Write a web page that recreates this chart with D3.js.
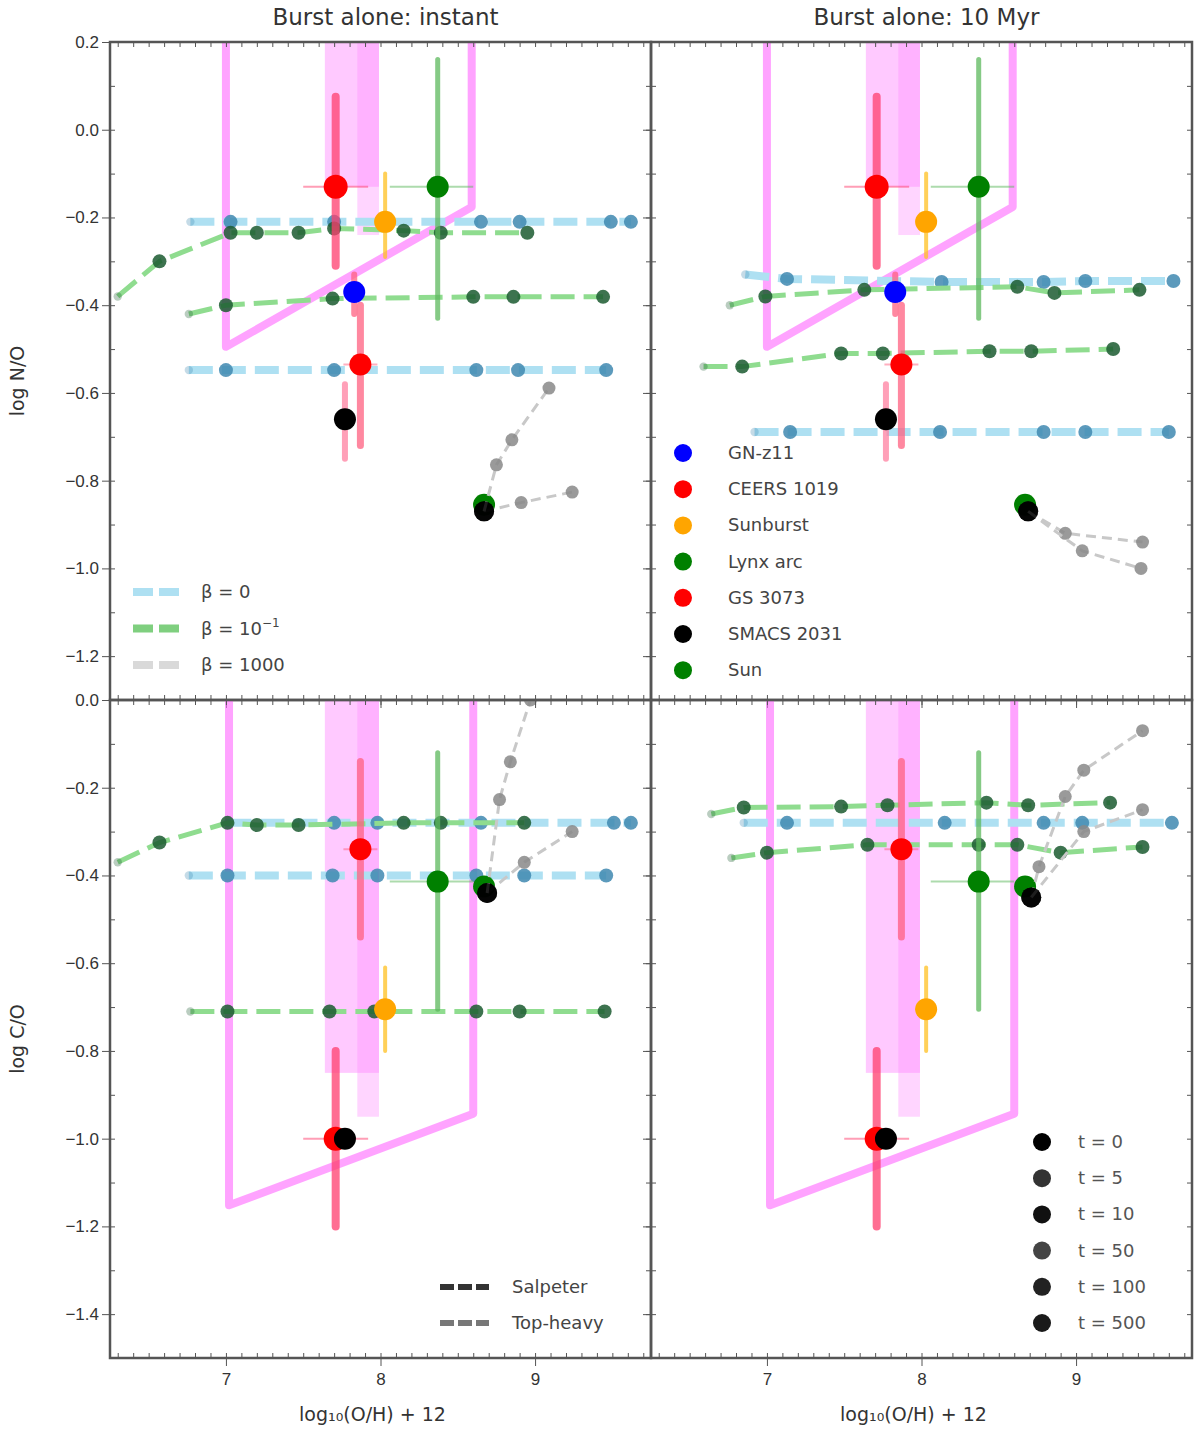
<!DOCTYPE html>
<html>
<head>
<meta charset="utf-8">
<script src="https://cdn.jsdelivr.net/npm/d3@7"></script>
<style>body{margin:0;background:#fff}</style>
</head>
<body>
<script>
// ---- data ----
var titles = ["Burst alone: instant", "Burst alone: 10 Myr"];
var xLabel = "log\u2081\u2080(O/H) + 12";
var yLabels = ["log N/O", "log C/O"];
var xDomain = [6.25, 9.75];
var xTicks = [7, 8, 9];
var yTicksNO = [0.2, 0.0, -0.2, -0.4, -0.6, -0.8, -1.0, -1.2];
var yTicksCO = [0.0, -0.2, -0.4, -0.6, -0.8, -1.0, -1.2, -1.4];

// observed objects
var obsNames = ["GN-z11", "CEERS 1019", "Sunburst", "Lynx arc", "GS 3073", "SMACS 2031", "Sun"];
var obsX   = [7.83, 7.71, 8.03, 8.37, 7.87, 7.77, 8.67];
var obsXlo = [7.78, 7.50, 7.96, 8.06, 7.76, 7.77, 8.67];
var obsXhi = [7.88, 7.92, 8.10, 8.60, 7.98, 7.77, 8.67];
var obsNO   = [-0.37, -0.13, -0.21, -0.13, -0.535, -0.66, -0.855];
var obsNOlo = [-0.42, -0.31, -0.29, -0.43, -0.72, -0.75, -0.855];
var obsNOhi = [-0.33, 0.075, -0.10, 0.16, -0.40, -0.58, -0.855];
var obsCO   = [null, -1.00, -0.705, -0.414, -0.34, -1.00, -0.425];
var obsCOlo = [null, -1.20, -0.80, -0.705, -0.54, -1.00, -0.425];
var obsCOhi = [null, -0.80, -0.61, -0.12, -0.14, -1.00, -0.425];

// legend texts
var trackNames = ["\u03b2 = 0", "\u03b2 = 10", "\u03b2 = 1000"];
var imfNames = ["Salpeter", "Top-heavy"];
var timeNames = ["t = 0", "t = 5", "t = 10", "t = 50", "t = 100", "t = 500"];

// observational constraints (region outline and band)
var polyNO = [[7.00, 0.30], [7.00, -0.495], [8.59, -0.176], [8.59, 0.30]];
var polyCO = [[7.02, 0.10], [7.02, -1.152], [8.60, -0.943], [8.60, 0.10]];
var bandNO = [7.64, 7.99, -0.13, 7.85, -0.24];
var bandCO = [7.64, 7.99, -0.85, 7.85, -0.95];

// model tracks, N/O, instant burst
var tlBlueA  = [[6.77, -0.21], [7.03, -0.21], [7.70, -0.21], [8.65, -0.21], [8.90, -0.21], [9.49, -0.21], [9.62, -0.21]];
var tlBlueB  = [[6.76, -0.548], [7.00, -0.548], [7.70, -0.548], [8.62, -0.548], [8.89, -0.548], [9.46, -0.548]];
var tlGreenA = [[6.30, -0.38], [6.57, -0.30], [7.03, -0.235], [7.20, -0.235], [7.47, -0.235], [7.70, -0.225], [8.15, -0.23], [8.39, -0.235], [8.95, -0.235]];
var tlGreenB = [[6.76, -0.42], [7.00, -0.40], [7.69, -0.385], [8.60, -0.381], [8.86, -0.381], [9.44, -0.381]];
var tlGray1  = [[8.67, -0.87], [8.91, -0.85], [9.24, -0.826]];
var tlGray2  = [[8.67, -0.87], [8.75, -0.764], [8.85, -0.707], [9.09, -0.589]];

// model tracks, N/O, 10 Myr burst
var trBlueA  = [[6.86, -0.33], [7.13, -0.34], [8.13, -0.347], [8.79, -0.347], [9.06, -0.345], [9.63, -0.345]];
var trBlueB  = [[6.92, -0.689], [7.15, -0.689], [8.12, -0.689], [8.79, -0.689], [9.06, -0.689], [9.60, -0.689]];
var trGreenA = [[6.76, -0.40], [6.99, -0.38], [7.63, -0.365], [8.62, -0.358], [8.86, -0.372], [9.41, -0.365]];
var trGreenB = [[6.59, -0.54], [6.84, -0.54], [7.48, -0.51], [7.75, -0.51], [8.44, -0.505], [8.71, -0.505], [9.24, -0.50]];
var trGray1  = [[8.69, -0.87], [8.93, -0.92], [9.43, -0.94]];
var trGray2  = [[8.69, -0.87], [9.04, -0.96], [9.42, -1.00]];

// model tracks, C/O, instant burst
var blBlueA  = [[7.01, -0.28], [7.70, -0.28], [7.98, -0.28], [8.65, -0.28], [9.51, -0.28], [9.62, -0.28]];
var blBlueB  = [[6.76, -0.40], [7.01, -0.40], [7.69, -0.40], [7.98, -0.40], [8.62, -0.40], [8.93, -0.40], [9.46, -0.40]];
var blGreenA = [[6.30, -0.37], [6.57, -0.325], [7.01, -0.28], [7.20, -0.285], [7.47, -0.285], [8.15, -0.28], [8.39, -0.28], [8.93, -0.28]];
var blGreenB = [[6.77, -0.71], [7.01, -0.71], [7.67, -0.71], [7.96, -0.71], [8.62, -0.71], [8.90, -0.71], [9.45, -0.71]];
var blGray1  = [[8.69, -0.44], [8.93, -0.37], [9.24, -0.30]];
var blGray2  = [[8.69, -0.44], [8.77, -0.227], [8.84, -0.141], [8.97, 0.0]];

// model tracks, C/O, 10 Myr burst
var brBlueA  = [[6.85, -0.28], [7.13, -0.28], [8.15, -0.28], [8.79, -0.28], [9.04, -0.28], [9.62, -0.28]];
var brGreenA = [[6.64, -0.26], [6.85, -0.245], [7.48, -0.243], [7.78, -0.24], [8.42, -0.234], [8.69, -0.24], [9.22, -0.234]];
var brGreenB = [[6.77, -0.36], [7.00, -0.348], [7.65, -0.33], [8.37, -0.33], [8.62, -0.33], [8.90, -0.348], [9.43, -0.335]];
var brGray1  = [[8.71, -0.45], [8.76, -0.38], [8.93, -0.22], [9.05, -0.16], [9.43, -0.07]];
var brGray2  = [[8.71, -0.45], [9.05, -0.30], [9.43, -0.25]];

// ---- styles ----
var obsColors = ["#0000ff", "#ff0000", "#ffa500", "#008000", "#ff0000", "#000000", "#008000"];
var errColors = ["#ff6080", "#ff3d6e", "#ffc020", "#5cb85c", "#ff6080", "#ff80a0", "#008000"];
var errWidths = [6, 8, 4, 5, 7, 6, 0];
var timeShades = ["#000", "#333", "#111", "#444", "#222", "#1a1a1a"];

var panelW = 541, panelH = 658;
var panels = [
  {left: 110, top: 42,  yDom: [-1.3, 0.2], yTicks: yTicksNO, oy: obsNO, lo: obsNOlo, hi: obsNOhi,
   poly: polyNO, band: bandNO, blue: [tlBlueA, tlBlueB], green: [tlGreenA, tlGreenB], gray: [tlGray1, tlGray2], col: 0, row: 0},
  {left: 651, top: 42,  yDom: [-1.3, 0.2], yTicks: yTicksNO, oy: obsNO, lo: obsNOlo, hi: obsNOhi,
   poly: polyNO, band: bandNO, blue: [trBlueA, trBlueB], green: [trGreenA, trGreenB], gray: [trGray1, trGray2], col: 1, row: 0},
  {left: 110, top: 700, yDom: [-1.5, 0.0], yTicks: yTicksCO, oy: obsCO, lo: obsCOlo, hi: obsCOhi,
   poly: polyCO, band: bandCO, blue: [blBlueA, blBlueB], green: [blGreenA, blGreenB], gray: [blGray1, blGray2], col: 0, row: 1},
  {left: 651, top: 700, yDom: [-1.5, 0.0], yTicks: yTicksCO, oy: obsCO, lo: obsCOlo, hi: obsCOhi,
   poly: polyCO, band: bandCO, blue: [brBlueA], green: [brGreenA, brGreenB], gray: [brGray1, brGray2], col: 1, row: 1}
];

var svg = d3.select("body")
  .append("svg")
    .attr("width", 1200)
    .attr("height", 1440)
    .style("font-family", "'DejaVu Sans', sans-serif");
var defs = svg.append("defs");

function drawTrack(g, pts, x, y, lineColor, lineWidth, dash, markColor, r, firstBlack) {
  g.append("path")
    .datum(pts)
    .attr("d", d3.line().x(function(d) { return x(d[0]); }).y(function(d) { return y(d[1]); }))
    .attr("fill", "none")
    .attr("stroke", lineColor)
    .attr("stroke-width", lineWidth)
    .attr("stroke-dasharray", dash);
  g.selectAll(null)
    .data(pts)
    .enter()
    .append("circle")
      .attr("cx", function(d) { return x(d[0]); })
      .attr("cy", function(d) { return y(d[1]); })
      .attr("r", function(d, i) { return i === 0 ? (firstBlack ? 10 : r * 0.6) : r; })
      .attr("fill", function(d, i) { return (i === 0 && firstBlack) ? "#000" : markColor; })
      .attr("fill-opacity", function(d, i) { return i === 0 && !firstBlack ? 0.3 : 0.85; });
}

var minorX = d3.range(63, 98).map(function(d) { return d / 10; });

panels.forEach(function(p, k) {
  var x = d3.scaleLinear().domain(xDomain).range([p.left, p.left + panelW]);
  var y = d3.scaleLinear().domain(p.yDom).range([p.top + panelH, p.top]);
  var minorY = d3.range(-15, 3).map(function(d) { return d / 10; })
    .filter(function(v) { return v >= p.yDom[0] && v <= p.yDom[1]; });

  defs.append("clipPath").attr("id", "clip" + k)
    .append("rect")
      .attr("x", p.left).attr("y", p.top)
      .attr("width", panelW).attr("height", panelH);

  var g = svg.append("g").attr("clip-path", "url(#clip" + k + ")");

  // shaded band
  g.append("rect")
    .attr("x", x(p.band[0])).attr("width", x(p.band[1]) - x(p.band[0]))
    .attr("y", p.top).attr("height", y(p.band[2]) - p.top)
    .attr("fill", "#ff88ff").attr("opacity", 0.45);
  g.append("rect")
    .attr("x", x(p.band[3])).attr("width", x(p.band[1]) - x(p.band[3]))
    .attr("y", p.top).attr("height", y(p.band[4]) - p.top)
    .attr("fill", "#ff88ff").attr("opacity", 0.35);

  // region outline
  g.append("path")
    .datum(p.poly)
    .attr("d", d3.line().x(function(d) { return x(d[0]); }).y(function(d) { return y(d[1]); }))
    .attr("fill", "none")
    .attr("stroke", "#ff66ff")
    .attr("stroke-opacity", 0.6)
    .attr("stroke-width", 8)
    .attr("stroke-linejoin", "round");

  // model tracks
  p.blue.forEach(function(t) { drawTrack(g, t, x, y, "#aee0f2", 8, "24,9", "#3f88b0", 7, false); });
  p.green.forEach(function(t) { drawTrack(g, t, x, y, "#8fdc8f", 5, "24,9", "#1b5a30", 7, false); });

  // observations: error bars then markers
  obsNames.forEach(function(name, i) {
    if (p.oy[i] === null) return;
    if (p.hi[i] > p.lo[i]) {
      g.append("line")
        .attr("x1", x(obsX[i])).attr("x2", x(obsX[i]))
        .attr("y1", y(p.lo[i])).attr("y2", y(p.hi[i]))
        .attr("stroke", errColors[i]).attr("stroke-width", errWidths[i])
        .attr("stroke-opacity", 0.75).attr("stroke-linecap", "round");
    }
    if (obsXhi[i] > obsXlo[i]) {
      g.append("line")
        .attr("x1", x(obsXlo[i])).attr("x2", x(obsXhi[i]))
        .attr("y1", y(p.oy[i])).attr("y2", y(p.oy[i]))
        .attr("stroke", errColors[i]).attr("stroke-width", 2)
        .attr("stroke-opacity", 0.5);
    }
  });
  obsNames.forEach(function(name, i) {
    if (p.oy[i] === null) return;
    g.append("circle")
      .attr("cx", x(obsX[i])).attr("cy", y(p.oy[i]))
      .attr("r", i === 1 ? 12 : 11)
      .attr("fill", obsColors[i]);
  });

  p.gray.forEach(function(t) { drawTrack(g, t, x, y, "#c8c8c8", 3, "10,6", "#888", 6.5, true); });

  // axes
  var bottom = svg.append("g").attr("transform", "translate(0," + (p.top + panelH) + ")")
    .call(d3.axisBottom(x).tickValues(xTicks).tickSize(8)
      .tickFormat(p.row === 1 ? d3.format("d") : function() { return ""; }));
  svg.append("g").attr("transform", "translate(0," + (p.top + panelH) + ")")
    .call(d3.axisBottom(x).tickValues(minorX).tickSize(-5).tickFormat(""));
  svg.append("g").attr("transform", "translate(0," + p.top + ")")
    .call(d3.axisTop(x).tickValues(minorX).tickSize(-5).tickFormat(""));
  var left = svg.append("g").attr("transform", "translate(" + p.left + ",0)")
    .call(d3.axisLeft(y).tickValues(p.yTicks).tickSize(8)
      .tickFormat(p.col === 0 ? d3.format(".1f") : function() { return ""; }));
  svg.append("g").attr("transform", "translate(" + p.left + ",0)")
    .call(d3.axisLeft(y).tickValues(minorY).tickSize(-5).tickFormat(""));
  svg.append("g").attr("transform", "translate(" + (p.left + panelW) + ",0)")
    .call(d3.axisRight(y).tickValues(minorY).tickSize(-5).tickFormat(""));
  svg.selectAll(".domain").attr("stroke", "none");
  svg.selectAll(".tick line").attr("stroke", "#555");
  bottom.selectAll("text").style("font-size", "17px").attr("fill", "#333").attr("dy", "0.95em");
  left.selectAll("text").style("font-size", "17px").attr("fill", "#333");

  svg.append("rect")
    .attr("x", p.left).attr("y", p.top)
    .attr("width", panelW).attr("height", panelH)
    .attr("fill", "none").attr("stroke", "#555").attr("stroke-width", 2.5);

  if (p.row === 0) {
    svg.append("text")
      .attr("x", p.left + panelW / 2 + 5).attr("y", 25)
      .attr("text-anchor", "middle")
      .style("font-size", "23px").attr("fill", "#333")
      .text(titles[p.col]);
  } else {
    svg.append("text")
      .attr("x", p.left + panelW / 2 - 8).attr("y", 1421)
      .attr("text-anchor", "middle")
      .style("font-size", "19px").attr("fill", "#333")
      .text(xLabel);
  }
  if (p.col === 0) {
    svg.append("text")
      .attr("transform", "translate(24," + (p.top + panelH / 2 + 10) + ")rotate(-90)")
      .attr("text-anchor", "middle")
      .style("font-size", "19px").attr("fill", "#333")
      .text(yLabels[p.row]);
  }
});

// legend: model tracks (top left)
var trackColors = ["#aee0f2", "#7fcf7f", "#d9d9d9"];
trackNames.forEach(function(name, i) {
  var yy = 592 + i * 36.5;
  svg.append("line").attr("x1", 133).attr("x2", 182).attr("y1", yy).attr("y2", yy)
    .attr("stroke", trackColors[i]).attr("stroke-width", 8).attr("stroke-dasharray", "20,6");
  var t = svg.append("text").attr("x", 201).attr("y", yy + 6)
    .style("font-size", "18px").attr("fill", "#444").text(name);
  if (i === 1) t.append("tspan").attr("dy", -8).style("font-size", "12px").text("\u22121");
});

// legend: observations (top right)
obsNames.forEach(function(name, i) {
  var yy = 453 + i * 36.2;
  svg.append("circle").attr("cx", 683).attr("cy", yy).attr("r", 9).attr("fill", obsColors[i]);
  svg.append("text").attr("x", 728).attr("y", yy + 6)
    .style("font-size", "18px").attr("fill", "#444").text(name);
});

// legend: IMF (bottom left)
var imfColors = ["#333", "#777"];
imfNames.forEach(function(name, i) {
  var yy = 1287 + i * 36;
  svg.append("line").attr("x1", 440).attr("x2", 489).attr("y1", yy).attr("y2", yy)
    .attr("stroke", imfColors[i]).attr("stroke-width", 6).attr("stroke-dasharray", "14,4");
  svg.append("text").attr("x", 512).attr("y", yy + 6)
    .style("font-size", "18px").attr("fill", "#444").text(name);
});

// legend: times (bottom right)
timeNames.forEach(function(name, i) {
  var yy = 1142 + i * 36.2;
  svg.append("circle").attr("cx", 1042).attr("cy", yy).attr("r", 9).attr("fill", timeShades[i]);
  svg.append("text").attr("x", 1078).attr("y", yy + 6)
    .style("font-size", "18px").attr("fill", "#555").text(name);
});
</script>
</body>
</html>
